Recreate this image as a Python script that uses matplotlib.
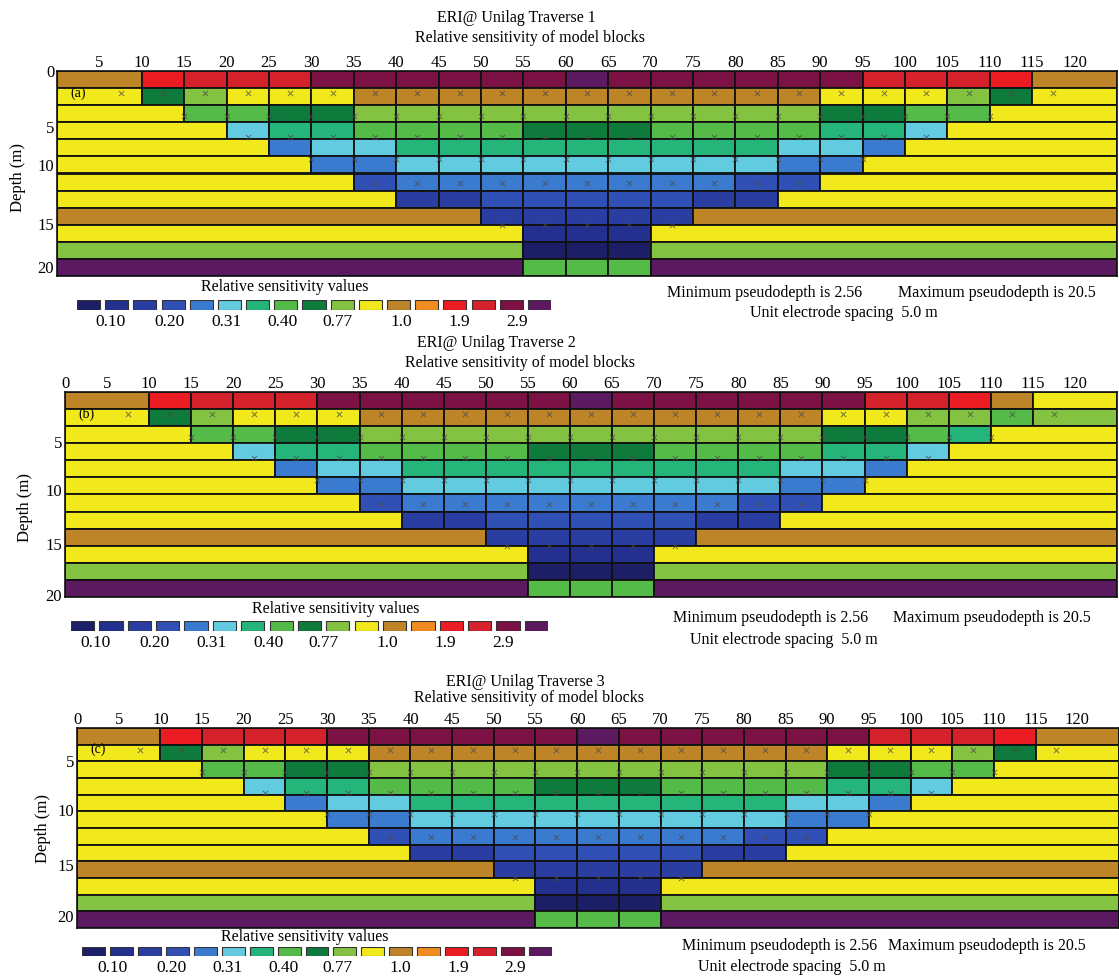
import matplotlib.pyplot as plt

# sensitivity colour scale (low -> high)
palette = ['#1c1f66', '#23308e', '#2a3ea2', '#3150b6', '#3a7bd0', '#62cbe0',
           '#25b57a', '#55bb48', '#0e7a3b', '#84c341', '#f1e91b', '#bd8428',
           '#f18c22', '#ec1c24', '#d5212b', '#7c1243', '#5b1a5f']
scale_labels = ['0.10', '0.20', '0.31', '0.40', '0.77', '1.0', '1.9', '2.9']
scale_label_pos = [1.2, 3.3, 5.3, 7.3, 9.25, 11.5, 13.55, 15.6]

# model mesh: block edges along the line (m) and the span of narrow blocks per layer
mesh_x = [0, 10, 15, 20, 25, 30, 35, 40, 45, 50, 55, 60, 65, 70, 75, 80, 85,
          90, 95, 100, 105, 110, 115, 125]
layer_span = [(10, 115), (10, 115), (15, 110), (20, 105), (25, 100), (30, 95),
              (35, 90), (40, 85), (50, 75), (55, 70), (55, 70), (55, 70)]

# colour index of each block, layer by layer
top_a = [
    [11, 13, 14, 14, 14, 15, 15, 15, 15, 15, 15, 16, 15, 15, 15, 15, 15, 15, 14, 14, 14, 13, 11],
    [10, 8, 9, 10, 10, 10, 11, 11, 11, 11, 11, 11, 11, 11, 11, 11, 11, 10, 10, 10, 9, 8, 10],
    [10, 7, 7, 8, 8, 9, 9, 9, 9, 9, 9, 9, 9, 9, 9, 9, 8, 8, 7, 7, 10],
]
top_b = [
    [11, 13, 14, 14, 14, 15, 15, 15, 15, 15, 15, 16, 15, 15, 15, 15, 15, 15, 14, 14, 13, 11, 10],
    [10, 8, 9, 10, 10, 10, 11, 11, 11, 11, 11, 11, 11, 11, 11, 11, 11, 10, 10, 9, 9, 7, 9],
    [10, 7, 7, 8, 8, 9, 9, 9, 9, 9, 9, 9, 9, 9, 9, 9, 8, 8, 7, 6, 10],
]
top_c = [
    [11, 13, 14, 14, 14, 15, 15, 15, 15, 15, 15, 16, 15, 15, 15, 15, 15, 15, 14, 14, 14, 13, 11],
    [10, 8, 9, 10, 10, 10, 11, 11, 11, 11, 11, 11, 11, 11, 11, 11, 11, 10, 10, 10, 9, 8, 10],
    [10, 7, 7, 8, 8, 9, 9, 9, 9, 9, 9, 9, 9, 9, 9, 9, 8, 8, 7, 7, 10],
]
deep_rows = [
    [10, 5, 6, 6, 7, 7, 7, 7, 8, 8, 8, 7, 7, 7, 7, 6, 6, 5, 10],
    [10, 4, 5, 5, 6, 6, 6, 6, 6, 6, 6, 6, 6, 5, 5, 4, 10],
    [10, 4, 4, 5, 5, 5, 5, 5, 5, 5, 5, 5, 4, 4, 10],
    [10, 3, 4, 4, 4, 4, 4, 4, 4, 4, 3, 3, 10],
    [10, 2, 2, 3, 3, 3, 3, 3, 2, 2, 10],
    [11, 2, 2, 2, 2, 2, 11],
    [10, 1, 1, 1, 10],
    [9, 0, 0, 0, 9],
    [16, 7, 7, 7, 16],
]

# pseudosection data points: x positions and plotting level (layer units)
datum_x = [
    [7.5, 12.5, 17.5, 22.5, 27.5, 32.5, 37.5, 42.5, 47.5, 52.5, 57.5, 62.5,
     67.5, 72.5, 77.5, 82.5, 87.5, 92.5, 97.5, 102.5, 107.5, 112.5, 117.5],
    [15, 20, 25, 30, 35, 40, 45, 50, 55, 60, 65, 70, 75, 80, 85, 90, 95, 100, 105, 110],
    [22.5, 27.5, 32.5, 37.5, 42.5, 47.5, 52.5, 57.5, 62.5, 67.5, 72.5, 77.5,
     82.5, 87.5, 92.5, 97.5, 102.5],
    [30, 35, 40, 45, 50, 55, 60, 65, 70, 75, 80, 85, 90, 95],
    [37.5, 42.5, 47.5, 52.5, 57.5, 62.5, 67.5, 72.5, 77.5, 82.5, 87.5],
    [52.5, 57.5, 62.5, 67.5, 72.5],
]
datum_level = [1.3, 2.65, 3.87, 5.15, 6.55, 9.0]

x_ticks = [0, 5, 10, 15, 20, 25, 30, 35, 40, 45, 50, 55, 60, 65, 70, 75, 80,
           85, 90, 95, 100, 105, 110, 115, 120]

# page layout of the three sections (pixels from top-left)
panels = [
    dict(name='1', tag='(a)', rows=top_a + deep_rows, box=(57, 71, 1117, 276),
         xt=x_ticks[1:], depth=[0, 5, 10, 15, 20], depth_at=[0, 3.25, 5.5, 8.95, 11.45],
         ylab=(26, 177), title=(516, 18), sub=(530, 38),
         leg=(77, 300, 551, 310), leg_title=(285, 287), lab_y=322, lab_shift=0.0,
         mins=(667, 293), maxs=(898, 293), unit=(750, 313)),
    dict(name='2', tag='(b)', rows=top_b + deep_rows, box=(65, 392, 1117, 597),
         xt=x_ticks, depth=[5, 10, 15, 20], depth_at=[2.9, 5.75, 8.9, 11.9],
         ylab=(33, 508), title=(496, 343), sub=(520, 363),
         leg=(71, 621, 548, 631), leg_title=(336, 609), lab_y=643, lab_shift=-0.35,
         mins=(673, 618), maxs=(893, 618), unit=(690, 640)),
    dict(name='3', tag='(c)', rows=top_c + deep_rows, box=(77, 728, 1119, 928),
         xt=x_ticks, depth=[5, 10, 15, 20], depth_at=[2.0, 4.9, 8.2, 11.3],
         ylab=(51, 828), title=(525, 682), sub=(529, 698),
         leg=(82, 947, 552, 956), leg_title=(305, 937), lab_y=968, lab_shift=-0.1,
         mins=(682, 946), maxs=(888, 946), unit=(698, 967)),
]

W, H = 1119, 980
plt.rcParams['font.family'] = ['Liberation Serif', 'DejaVu Serif']
fig = plt.figure(figsize=(W / 100, H / 100), dpi=100)


def add_px_axes(left, top, right, bottom):
    return fig.add_axes([left / W, 1 - bottom / H, (right - left) / W, (bottom - top) / H])


def px_text(x, y, s, **kw):
    fig.text(x / W, 1 - y / H, s, **kw)


for p in panels:
    ax = add_px_axes(*p['box'])
    for r, colours in enumerate(p['rows']):
        lo, hi = layer_span[r]
        edges = [0] + [x for x in mesh_x if lo <= x <= hi] + [125]
        lefts = edges[:-1]
        widths = [b - a for a, b in zip(edges[:-1], edges[1:])]
        ax.barh([r + 0.5] * len(lefts), widths, left=lefts, height=1.0,
                color=[palette[c] for c in colours], edgecolor='#111111',
                linewidth=1.3, zorder=1)
    for xs, lev in zip(datum_x, datum_level):
        ax.scatter(xs, [lev] * len(xs), marker='x', s=14, color='#4a4a4a',
                   linewidths=0.7, alpha=0.75, zorder=3)
    ax.text(1.6, 1.3, p['tag'], fontsize=10, va='center', ha='left', zorder=4)

    ax.set_xlim(0, 125)
    ax.set_ylim(12, 0)
    ax.xaxis.tick_top()
    ax.set_xticks(p['xt'])
    ax.set_xticklabels([str(v) for v in p['xt']])
    ax.set_yticks(p['depth_at'])
    ax.set_yticklabels([str(v) for v in p['depth']])
    ax.tick_params(length=0, labelsize=12)
    ax.tick_params(axis='x', pad=0)
    ax.tick_params(axis='y', pad=2)
    left, top, right, bottom = p['box']
    ax.set_ylabel('Depth (m)', fontsize=12)
    ax.yaxis.set_label_coords((p['ylab'][0] - left) / (right - left),
                              (bottom - p['ylab'][1]) / (bottom - top))
    for s in ax.spines.values():
        s.set_linewidth(1.2)
        s.set_color('#111111')

    px_text(*p['title'], 'ERI@ Unilag Traverse ' + p['name'],
            ha='center', va='center', fontsize=11.5)
    px_text(*p['sub'], 'Relative sensitivity of model blocks',
            ha='center', va='center', fontsize=11.5)

    # colour scale
    lax = add_px_axes(*p['leg'])
    lax.bar(range(17), [1] * 17, width=0.82, align='edge', color=palette,
            edgecolor='#333333', linewidth=0.8)
    lax.set_xlim(0, 16.82)
    lax.set_ylim(0, 1)
    lax.axis('off')
    leg_h = p['leg'][3] - p['leg'][1]
    lab_off = (p['lab_y'] - p['leg'][3]) / leg_h
    for pos, lab in zip(scale_label_pos, scale_labels):
        lax.text(pos + p['lab_shift'], -lab_off, lab, ha='center', va='center',
                 fontsize=12.5, clip_on=False)
    px_text(*p['leg_title'], 'Relative sensitivity values', ha='center', va='center',
            fontsize=11.5)

    px_text(*p['mins'], 'Minimum pseudodepth is 2.56', ha='left', va='center', fontsize=11.5)
    px_text(*p['maxs'], 'Maximum pseudodepth is 20.5', ha='left', va='center', fontsize=11.5)
    px_text(*p['unit'], 'Unit electrode spacing  5.0 m', ha='left', va='center',
            fontsize=11.5)

fig.savefig('out.png', dpi=100)
